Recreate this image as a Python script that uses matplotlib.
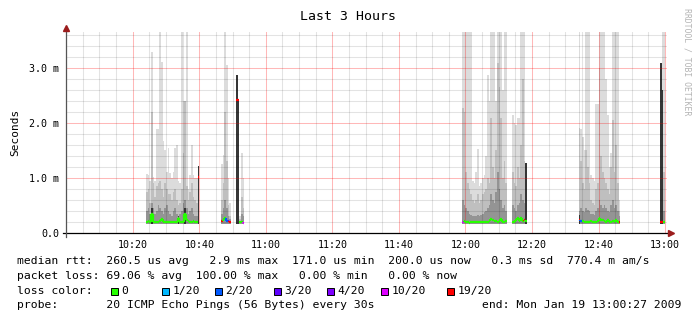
import matplotlib
matplotlib.use("Agg")
import matplotlib.pyplot as plt
import numpy as np
from matplotlib.patches import Rectangle

# ---- data (time in minutes after 10:00, values in ms) ----
STEP = 0.5            # one smoke sample every 30 s
SMOKE_FLOOR = 0.155   # fastest ping, bottom of the smoke

t_min = [
    24.0, 24.5, 25.0, 25.5, 26.0, 26.5, 27.0, 27.5, 28.0, 28.5, 29.0, 29.5, 30.0, 30.5, 31.0, 31.5,
    32.0, 32.5, 33.0, 33.5, 34.0, 34.5, 35.0, 35.5, 36.0, 36.5, 37.0, 37.5, 38.0, 38.5, 39.0, 39.5,
    46.5, 47.0, 47.5, 48.0, 48.5, 49.0,
    51.0, 51.5, 52.0, 52.5, 53.0,
    119.0, 119.5, 120.0, 120.5, 121.0, 121.5, 122.0, 122.5, 123.0, 123.5, 124.0, 124.5, 125.0, 125.5,
    126.0, 126.5, 127.0, 127.5, 128.0, 128.5, 129.0, 129.5, 130.0, 130.5, 131.0, 131.5, 132.0,
    134.0, 134.5, 135.0, 135.5, 136.0, 136.5, 137.0, 137.5, 138.0,
    154.0, 154.5, 155.0, 155.5, 156.0, 156.5, 157.0, 157.5, 158.0, 158.5, 159.0, 159.5, 160.0, 160.5,
    161.0, 161.5, 162.0, 162.5, 163.0, 163.5, 164.0, 164.5, 165.0, 165.5, 166.0,
    178.5, 179.0, 179.5,
]
smoke_max = [
    1.07, 1.05, 0.95, 3.30, 1.02, 0.95, 1.90, 1.90, 3.70, 3.12, 1.68, 1.50, 1.10, 1.55, 1.08, 1.00,
    1.10, 1.55, 1.60, 0.95, 0.90, 3.70, 2.40, 1.00, 3.70, 0.80, 1.05, 1.60, 1.05, 1.00, 1.00, 1.22,
    1.25, 1.41, 3.70, 3.05, 1.00, 0.55,
    2.87, 2.42, 0.30, 1.46, 1.00,
    3.70, 3.70, 3.70, 3.70, 3.70, 3.70, 0.95, 0.90, 1.10, 1.52, 0.85, 0.90, 1.00, 1.05,
    1.40, 2.88, 2.40, 3.70, 3.70, 3.70, 2.40, 3.70, 3.70, 3.70, 2.60, 3.70, 3.70,
    2.15, 2.00, 1.97, 2.10, 2.10, 3.70, 3.70, 3.70, 1.27,
    3.70, 1.90, 1.75, 1.50, 3.70, 3.70, 3.70, 1.05, 1.00, 0.95, 2.34, 2.34, 3.70, 3.70,
    3.70, 3.70, 2.80, 2.15, 1.20, 1.45, 3.70, 3.70, 3.70, 3.70, 0.60,
    3.10, 3.70, 3.70,
]
smoke_mid = [
    0.75, 0.80, 0.55, 2.20, 0.90, 0.65, 0.85, 0.90, 0.95, 0.80, 0.65, 0.90, 0.80, 0.70, 0.70, 0.60,
    0.75, 0.80, 0.60, 0.50, 0.55, 0.80, 1.45, 2.40, 0.85, 0.60, 0.75, 0.90, 0.65, 0.60, 0.55, 1.22,
    0.60, 0.90, 2.20, 1.30, 0.50, 0.30,
    2.42, 2.42, 0.25, 0.65, 0.45,
    2.28, 2.20, 1.10, 0.90, 0.80, 0.70, 0.60, 0.55, 0.60, 0.70, 0.55, 0.60, 0.70, 0.75,
    0.80, 1.00, 0.90, 2.10, 1.20, 1.00, 1.50, 3.10, 2.65, 2.10, 1.00, 1.30, 0.90,
    1.10, 0.90, 0.85, 1.20, 1.00, 1.60, 2.80, 1.30, 1.27,
    1.91, 1.30, 0.90, 0.80, 1.50, 1.20, 0.90, 0.60, 0.55, 0.50, 0.80, 0.90, 3.00, 1.40,
    1.10, 1.00, 0.90, 0.80, 0.70, 1.20, 2.06, 1.10, 1.60, 0.90, 0.40,
    3.10, 2.60, 1.10,
]
smoke_dark = [
    0.40, 0.45, 0.35, 0.55, 0.45, 0.35, 0.40, 0.50, 0.45, 0.40, 0.35, 0.45, 0.50, 0.40, 0.35, 0.30,
    0.40, 0.45, 0.35, 0.30, 0.35, 0.40, 0.55, 0.60, 0.45, 0.35, 0.40, 0.45, 0.35, 0.30, 0.30, 1.22,
    0.35, 0.45, 0.60, 0.45, 0.30, 0.25,
    2.42, 2.42, 0.22, 0.35, 0.30,
    0.60, 0.50, 0.45, 0.40, 0.35, 0.32, 0.30, 0.30, 0.30, 0.32, 0.30, 0.32, 0.35, 0.38,
    0.40, 0.45, 0.50, 0.70, 0.60, 0.55, 0.75, 1.10, 0.80, 0.60, 0.45, 0.50, 0.40,
    0.50, 0.45, 0.40, 0.50, 0.55, 0.70, 0.60, 0.55, 1.13,
    0.40, 0.45, 0.40, 0.38, 0.45, 0.42, 0.40, 0.35, 0.35, 0.32, 0.40, 0.45, 0.60, 0.50,
    0.45, 0.50, 0.45, 0.40, 0.38, 0.50, 0.60, 0.45, 0.50, 0.40, 0.30,
    3.10, 2.60, 0.40,
]
median_ms = [
    0.20, 0.21, 0.20, 0.34, 0.20, 0.19, 0.20, 0.20, 0.21, 0.25, 0.19, 0.20, 0.20, 0.20, 0.20, 0.20,
    0.20, 0.20, 0.20, 0.26, 0.19, 0.20, 0.20, 0.34, 0.23, 0.21, 0.20, 0.20, 0.21, 0.20, 0.20, 1.02,
    0.22, 0.24, 0.26, 0.22, 0.22, 0.19,
    2.42, 2.42, 0.20, 0.20, 0.18,
    0.20, 0.21, 0.20, 0.19, 0.18, 0.19, 0.19, 0.19, 0.20, 0.19, 0.19, 0.20, 0.20, 0.19,
    0.20, 0.20, 0.22, 0.25, 0.23, 0.22, 0.22, 0.20, 0.21, 0.25, 0.20, 0.20, 0.21,
    0.20, 0.19, 0.24, 0.27, 0.22, 0.26, 0.22, 0.23, 0.22,
    0.24, 0.22, 0.21, 0.19, 0.20, 0.20, 0.20, 0.21, 0.20, 0.19, 0.20, 0.22, 0.26, 0.24,
    0.23, 0.22, 0.20, 0.24, 0.20, 0.19, 0.22, 0.20, 0.23, 0.20, 0.20,
    0.20, 0.20, 0.20,
]
loss_pings = [
    0, 0, 0, 0, 0, 0, 0, 0, 0, 0, 0, 0, 0, 0, 0, 0,
    0, 0, 0, 0, 0, 0, 0, 0, 0, 0, 0, 0, 0, 0, 0, 19,
    19, 0, 0, 2, 3, 19,
    19, 19, 0, 0, 10,
    10, 0, 0, 0, 0, 0, 0, 0, 0, 0, 0, 0, 0, 0,
    0, 0, 0, 0, 0, 0, 0, 0, 0, 0, 0, 0, 0,
    0, 0, 0, 0, 0, 0, 0, 19, 0,
    19, 2, 0, 0, 0, 0, 0, 0, 0, 0, 0, 0, 0, 0,
    0, 0, 0, 0, 0, 0, 0, 0, 0, 0, 19,
    19, 19, 0,
]
# single-ping samples drawn as near-black bars
core_t = [25.5, 33.5, 35.5, 39.5, 51.0, 51.5, 138.0, 154.0, 178.5, 179.0]
core_top = [0.45, 0.30, 0.45, 1.22, 2.87, 2.42, 1.27, 0.33, 3.10, 2.60]

loss_levels = [0, 1, 2, 3, 4, 10, 19]
loss_labels = ["0", "1/20", "2/20", "3/20", "4/20", "10/20", "19/20"]
loss_colors = ["#26ff00", "#00b8ff", "#0059ff", "#5e00ff", "#7e00ff", "#dd00ff", "#ff0000"]

xtick_pos = [20, 40, 60, 80, 100, 120, 140, 160, 180]
xtick_labels = ["10:20", "10:40", "11:00", "11:20", "11:40", "12:00", "12:20", "12:40", "13:00"]
ytick_pos = [0, 1, 2, 3]
ytick_labels = ["0.0", "1.0 m", "2.0 m", "3.0 m"]

legend_rtt = "median rtt:  260.5 us avg   2.9 ms max  171.0 us min  200.0 us now   0.3 ms sd  770.4 m am/s"
legend_loss = "packet loss: 69.06 % avg  100.00 % max   0.00 % min   0.00 % now"
legend_probe = "probe:       20 ICMP Echo Pings (56 Bytes) every 30s"
legend_end = "end: Mon Jan 19 13:00:27 2009"

# ---- figure ----
plt.rcParams["font.family"] = "DejaVu Sans Mono"
W, H = 697, 321
X0, X1, Y0, Y1 = 66.2, 666.6, 32.0, 232.7   # plot area in pixels

fig = plt.figure(figsize=(W / 100, H / 100), dpi=100, facecolor="white")
ax = fig.add_axes([X0 / W, 1 - Y1 / H, (X1 - X0) / W, (Y1 - Y0) / H])
ax.set_xlim(0, 180.45)
ax.set_ylim(0, 3.66)

t = np.array(t_min)
tops = [np.array(smoke_max), np.array(smoke_mid), np.array(smoke_dark)]
shades = ["#dcdcdc", "#bfbfbf", "#949494"]
runs = np.split(np.arange(len(t)), np.where(np.diff(t) > STEP + 1e-6)[0] + 1)
for idx in runs:
    x = np.append(t[idx], t[idx[-1]] + STEP)
    for top, shade in zip(tops, shades):
        y = np.append(top[idx], top[idx[-1]])
        ax.fill_between(x, SMOKE_FLOOR, y, step="post", color=shade, lw=0, zorder=1)

ax.bar(core_t, np.array(core_top) - SMOKE_FLOOR, bottom=SMOKE_FLOOR, width=STEP,
       align="edge", color="#363636", lw=0, zorder=1.5)

# median line coloured by packet loss
med = np.array(median_ms)
cmap = dict(zip(loss_levels, loss_colors))
cols = [cmap[l] for l in loss_pings]
ax.hlines(med, t, t + STEP, colors=cols, lw=1.6, zorder=4)
for i in range(len(t) - 1):
    if abs(t[i + 1] - t[i] - STEP) < 1e-6 and abs(med[i + 1] - med[i]) < 0.3:
        ax.vlines(t[i + 1], med[i], med[i + 1], colors=cols[i + 1], lw=1.6, zorder=4)

# grid on top of the smoke, like rrdtool
ax.set_xticks(xtick_pos, xtick_labels)
ax.set_xticks(np.arange(0, 181, 5), minor=True)
ax.set_yticks(ytick_pos, ytick_labels)
ax.set_yticks(np.arange(0, 3.61, 0.2), minor=True)
ax.set_axisbelow(False)
ax.grid(which="major", color="red", alpha=0.28, lw=0.75)
ax.grid(which="minor", color="black", alpha=0.11, lw=0.75)
ax.tick_params(which="both", length=0, labelsize=7.2)
ax.tick_params(axis="x", pad=5)
ax.tick_params(axis="y", pad=5)
for s in ax.spines.values():
    s.set_visible(False)

# axes with arrows
def fx(px):
    return (px - X0) / (X1 - X0)

def fy(py):
    return (Y1 - py) / (Y1 - Y0)

ax.plot([fx(63), fx(669)], [0, 0], color="black", lw=0.9, transform=ax.transAxes,
        clip_on=False, zorder=5)
ax.plot([0, 0], [fy(236.5), fy(30)], color="#555555", lw=0.9, transform=ax.transAxes,
        clip_on=False, zorder=5)
ax.plot([fx(671)], [0], marker=">", ms=4, color="#9b1c1c", transform=ax.transAxes,
        clip_on=False, zorder=6)
ax.plot([0], [fy(28)], marker="^", ms=4, color="#9b1c1c", transform=ax.transAxes,
        clip_on=False, zorder=6)

# texts
fig.text(0.5, 1 - 16 / H, "Last 3 Hours", ha="center", va="center", fontsize=9.5)
fig.text(15 / W, 1 - 132 / H, "Seconds", rotation=90, ha="center", va="center", fontsize=8)
fig.text(686.5 / W, 1 - 62 / H, "RRDTOOL / TOBI OETIKER", rotation=270, ha="center",
         va="center", fontsize=5.9, color="#b4b4b4")

LEG = 8.2
fig.text(17 / W, 1 - 261 / H, legend_rtt, va="center", fontsize=LEG)
fig.text(17 / W, 1 - 276 / H, legend_loss, va="center", fontsize=LEG)
fig.text(17 / W, 1 - 291 / H, "loss color:", va="center", fontsize=LEG)
box_left = [110.8, 162.2, 214.5, 273.5, 326.9, 381.1, 447.4]
for bx, lab, col in zip(box_left, loss_labels, loss_colors):
    fig.add_artist(Rectangle((bx / W, 1 - 295 / H), 7 / W, 7 / H, transform=fig.transFigure,
                             facecolor=col, edgecolor="black", lw=0.7))
    fig.text((bx + 10.5) / W, 1 - 291 / H, lab, va="center", fontsize=LEG)
fig.text(17 / W, 1 - 305 / H, legend_probe, va="center", fontsize=LEG)
fig.text(681 / W, 1 - 305 / H, legend_end, va="center", ha="right", fontsize=LEG)

fig.savefig("out.png", dpi=100, facecolor="white")
